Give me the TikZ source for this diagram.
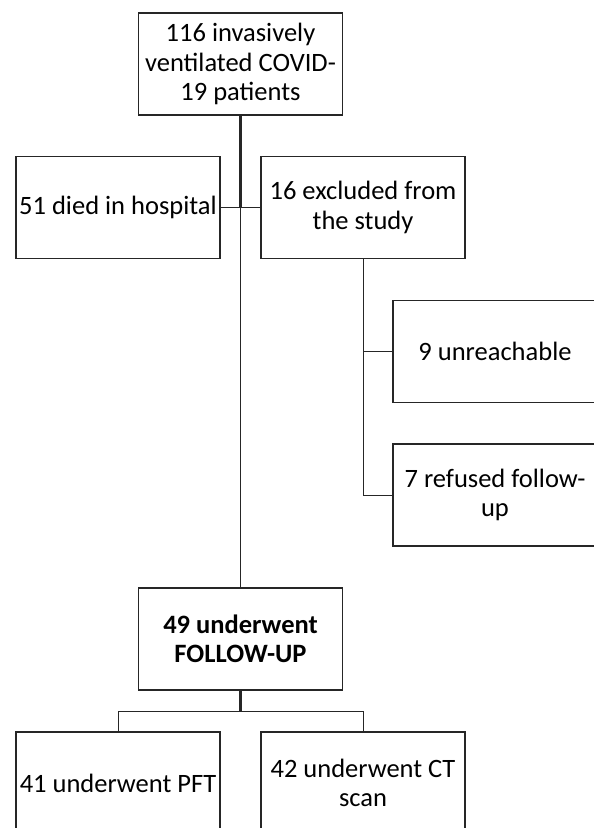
\documentclass[tikz,border=0pt]{standalone}
\usepackage{fontspec}
\setmainfont{Carlito}
\begin{document}
\begin{tikzpicture}[x=1pt,y=1pt,
    box/.style={draw=black!85,line width=1.2pt,minimum width=204pt,minimum height=102pt,
      inner sep=1pt,align=center,font=\fontsize{26.5}{29.5}\selectfont},
    link/.style={draw=black!85,line width=1pt},
    trunk/.style={draw=black!85,line width=2.2pt}]
  \useasboundingbox (0,0) rectangle (594,-828);
  \clip (0,0) rectangle (594,-828);
  \node[box] (top) at (240.5,-64) {116 invasively\\ventilated COVID-\\19 patients};
  \node[box] (died) at (118,-207.5) {51 died in hospital};
  \node[box] (excl) at (363,-207.5) {16 excluded from\\the study};
  \node[box] (unreach) at (495,-351.5) {9 unreachable};
  \node[box] (refused) at (495,-495) {7 refused follow-\\up};
  \node[box] (fu) at (240.5,-639) {\bfseries 49 underwent\\\bfseries FOLLOW-UP};
  \node[box] (pft) at (118,-783) {41 underwent PFT};
  \node[box] (ct) at (363,-783) {42 underwent CT\\scan};
  \coordinate (j1) at (240.5,-207.5);
  \coordinate (j2) at (240.5,-711);
  \draw[trunk] (top.south) -- (j1);
  \draw[link] (j1) -- (fu.north);
  \draw[link] (died.east) -- (excl.west);
  \draw[link] (excl.south) |- (unreach.west);
  \draw[link] (excl.south) |- (refused.west);
  \draw[trunk] (fu.south) -- (j2);
  \draw[link] (j2) -| (pft.north);
  \draw[link] (j2) -| (ct.north);
\end{tikzpicture}
\end{document}
